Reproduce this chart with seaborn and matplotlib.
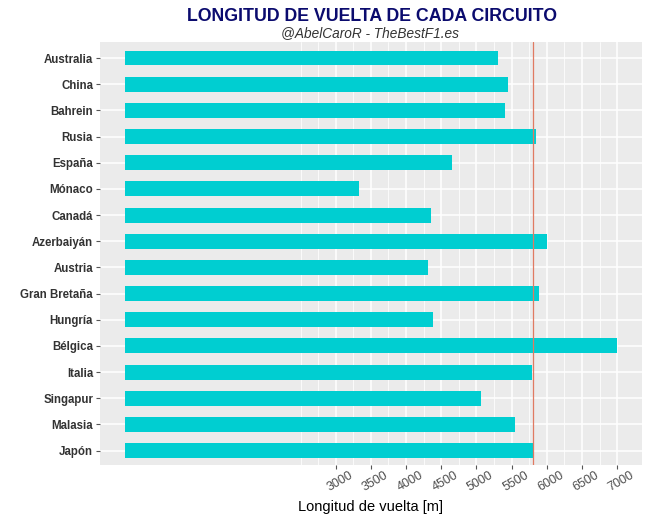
import numpy as np
import pandas as pd
import seaborn as sns
import matplotlib.pyplot as plt
import matplotlib.transforms as mtransforms
from matplotlib.ticker import FixedLocator


# Datos: longitud de vuelta de cada circuito (m)
circuitos = ['Australia', 'China', 'Bahrein', 'Rusia', 'España', 'Mónaco', 'Canadá',
             'Azerbaiyán', 'Austria', 'Gran Bretaña', 'Hungría', 'Bélgica', 'Italia',
             'Singapur', 'Malasia', 'Japón']
longitudes = [5303, 5451, 5412, 5848, 4655, 3337, 4361, 6003, 4318, 5891, 4381,
              7004, 5793, 5065, 5543, 5807]
marcas_x = [3000, 3500, 4000, 4500, 5000, 5500, 6000, 6500, 7000]
linea_ref = 5807

df = pd.DataFrame({'Circuito': circuitos, 'Longitud': longitudes})

sns.set_style('whitegrid')
plt.rcParams['font.family'] = ['Liberation Sans', 'DejaVu Sans']

fig = plt.figure(figsize=(6.48, 5.17), dpi=100)
ax = fig.add_axes([100 / 648, 1 - 465 / 517, 542 / 648, (465 - 42.3) / 517])

sns.barplot(data=df, x='Longitud', y='Circuito', orient='h', color='#00CED1',
            saturation=1, width=0.57, linewidth=0, edgecolor='none', ax=ax, zorder=3)
ax.axvline(linea_ref, color='#e07a62', lw=0.9, zorder=4)

# Fondo y rejilla estilo ggplot
ax.set_facecolor('#EBEBEB')
for s in ax.spines.values():
    s.set_visible(False)
ax.set_xlim(-350, 7354)
ax.set_ylim(len(circuitos) - 1 + 0.55, -0.6)
ax.xaxis.set_major_locator(FixedLocator(marcas_x))
menores = [m + 250 for m in marcas_x[:-1]] + [2500, 2750]
ax.xaxis.set_minor_locator(FixedLocator(menores))
ax.grid(which='major', color='white', lw=1.1, zorder=0)
ax.grid(which='minor', axis='x', color='white', lw=0.55, zorder=0)
ax.set_axisbelow(True)

ax.tick_params(axis='x', which='major', length=3, color='#555555', pad=0,
               labelsize=9, labelcolor='#4D4D4D')
ax.tick_params(axis='x', which='minor', length=0)
ax.tick_params(axis='y', length=3, color='#555555', pad=2, labelsize=8.3,
               labelcolor='#333333')
ax.tick_params(axis='both', direction='out', bottom=True, left=True)
for t in ax.get_yticklabels():
    t.set_fontweight('bold')
desplaz = mtransforms.ScaledTranslation(4 / 100, 0, fig.dpi_scale_trans)
for t in ax.get_xticklabels():
    t.set_rotation(30)
    t.set_ha('center')
    t.set_transform(t.get_transform() + desplaz)

ax.set_ylabel('')
ax.set_xlabel('')
fig.text(371 / 648, 1 - 511 / 517, 'Longitud de vuelta [m]', ha='center',
         va='baseline', fontsize=10.5, color='black')

fig.text(372 / 648, 1 - 21 / 517, 'LONGITUD DE VUELTA DE CADA CIRCUITO',
         ha='center', va='baseline', fontsize=12.8, fontweight='bold', color='#0B0B6E')
fig.text(370 / 648, 1 - 37.5 / 517, '@AbelCaroR - TheBestF1.es',
         ha='center', va='baseline', fontsize=9.8, style='italic', color='#333333')

plt.savefig('out.png', dpi=100)
